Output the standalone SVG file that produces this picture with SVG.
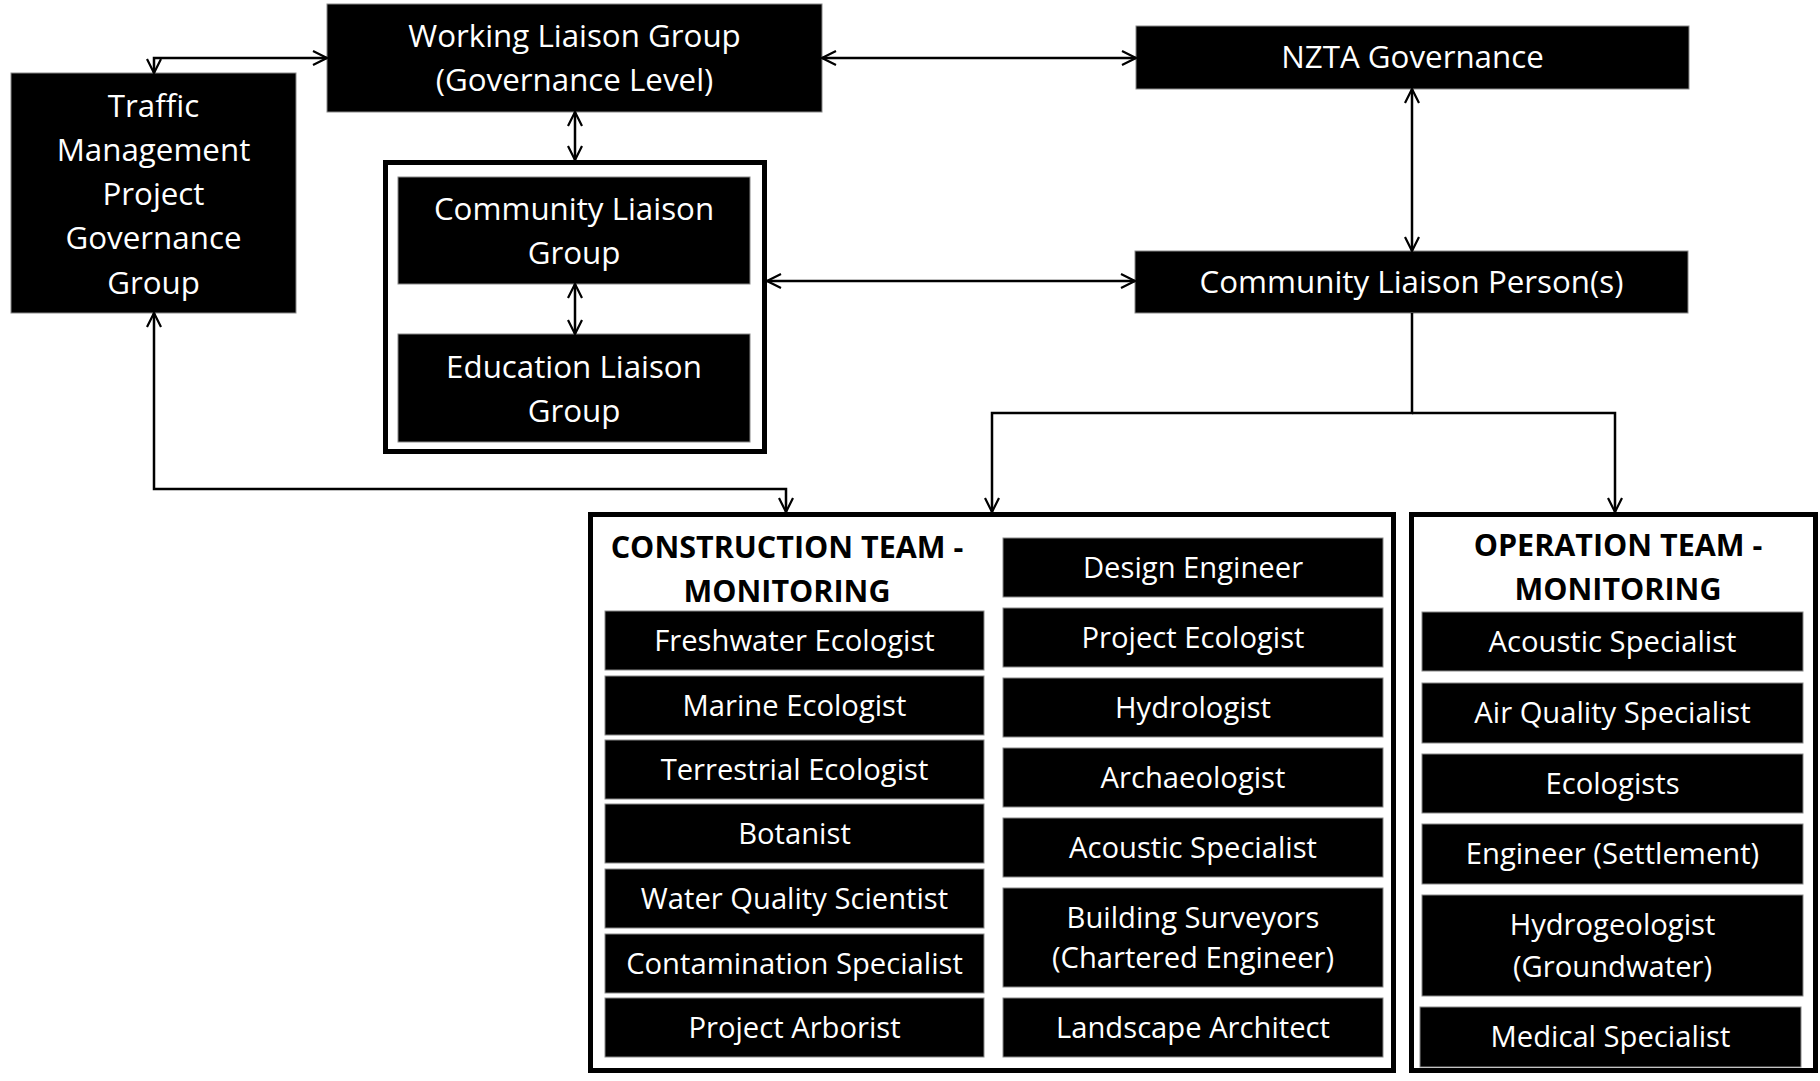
<svg xmlns="http://www.w3.org/2000/svg" width="1820" height="1081" viewBox="0 0 1820 1081">
<style>
.box{fill:#000;stroke:#888;stroke-width:1}
.cont{fill:#fff;stroke:#000;stroke-width:5}
.t{font-family:"Open Sans","Noto Sans",sans-serif;fill:#fff;text-anchor:middle;font-size:31.3px}
.s{font-family:"Open Sans","Noto Sans",sans-serif;fill:#fff;text-anchor:middle;font-size:29.2px}
.h{font-family:"Open Sans","Noto Sans",sans-serif;fill:#000;text-anchor:middle;font-size:30.5px;font-weight:bold}
.c{fill:none;stroke:#000;stroke-width:2.5}
</style>
<defs>
<marker id="arr" markerUnits="userSpaceOnUse" markerWidth="18" markerHeight="18" viewBox="0 0 18 18" refX="16" refY="9" orient="auto-start-reverse">
<path d="M2,2 L16,9 L2,16" fill="none" stroke="#000" stroke-width="2.2"/>
</marker>
</defs>
<rect width="1820" height="1081" fill="#fff"/>

<g id="traffic">
<rect class="box" x="11" y="73" width="285" height="240"/>
<text class="t" x="153.5" y="117">Traffic</text>
<text class="t" x="153.5" y="161">Management</text>
<text class="t" x="153.5" y="205">Project</text>
<text class="t" x="153.5" y="249">Governance</text>
<text class="t" x="153.5" y="294">Group</text>
</g>

<g id="working-liaison">
<rect class="box" x="327" y="4" width="495" height="108"/>
<text class="t" x="574.5" y="47">Working Liaison Group</text>
<text class="t" x="574.5" y="91">(Governance Level)</text>
</g>

<g id="liaison-container">
<rect class="cont" x="385.5" y="162.5" width="379" height="289"/>
</g>
<g id="community-liaison-group">
<rect class="box" x="398" y="177" width="352" height="107"/>
<text class="t" x="574" y="220">Community Liaison</text>
<text class="t" x="574" y="264">Group</text>
</g>
<g id="education-liaison-group">
<rect class="box" x="398" y="334" width="352" height="108"/>
<text class="t" x="574" y="378">Education Liaison</text>
<text class="t" x="574" y="422">Group</text>
</g>

<g id="nzta">
<rect class="box" x="1136" y="26" width="553" height="63"/>
<text class="t" x="1412.5" y="68">NZTA Governance</text>
</g>

<g id="clp">
<rect class="box" x="1135" y="251" width="553" height="62"/>
<text class="t" x="1411.5" y="293">Community Liaison Person(s)</text>
</g>

<g id="construction-team">
<rect class="cont" x="590.5" y="514.5" width="803" height="556"/>
<text class="h" x="787" y="558">CONSTRUCTION TEAM -</text>
<text class="h" x="787" y="602">MONITORING</text>
</g>
<g id="c-freshwater"><rect class="box" x="605" y="611" width="379" height="59"/><text class="s" x="794.5" y="651">Freshwater Ecologist</text></g>
<g id="c-marine"><rect class="box" x="605" y="676" width="379" height="59"/><text class="s" x="794.5" y="716">Marine Ecologist</text></g>
<g id="c-terrestrial"><rect class="box" x="605" y="740" width="379" height="59"/><text class="s" x="794.5" y="780">Terrestrial Ecologist</text></g>
<g id="c-botanist"><rect class="box" x="605" y="804" width="379" height="59"/><text class="s" x="794.5" y="844">Botanist</text></g>
<g id="c-water"><rect class="box" x="605" y="869" width="379" height="59"/><text class="s" x="794.5" y="909">Water Quality Scientist</text></g>
<g id="c-contamination"><rect class="box" x="605" y="934" width="379" height="59"/><text class="s" x="794.5" y="974">Contamination Specialist</text></g>
<g id="c-arborist"><rect class="box" x="605" y="998" width="379" height="59"/><text class="s" x="794.5" y="1038">Project Arborist</text></g>

<g id="c-design"><rect class="box" x="1003" y="538" width="380" height="59"/><text class="s" x="1193" y="578">Design Engineer</text></g>
<g id="c-project-ecologist"><rect class="box" x="1003" y="608" width="380" height="59"/><text class="s" x="1193" y="648">Project Ecologist</text></g>
<g id="c-hydrologist"><rect class="box" x="1003" y="678" width="380" height="59"/><text class="s" x="1193" y="718">Hydrologist</text></g>
<g id="c-archaeologist"><rect class="box" x="1003" y="748" width="380" height="59"/><text class="s" x="1193" y="788">Archaeologist</text></g>
<g id="c-acoustic"><rect class="box" x="1003" y="818" width="380" height="59"/><text class="s" x="1193" y="858">Acoustic Specialist</text></g>
<g id="c-building"><rect class="box" x="1003" y="888" width="380" height="99"/><text class="s" x="1193" y="928">Building Surveyors</text><text class="s" x="1193" y="968">(Chartered Engineer)</text></g>
<g id="c-landscape"><rect class="box" x="1003" y="998" width="380" height="59"/><text class="s" x="1193" y="1038">Landscape Architect</text></g>

<g id="operation-team">
<rect class="cont" x="1411.5" y="514.5" width="404" height="556"/>
<text class="h" x="1618" y="556">OPERATION TEAM -</text>
<text class="h" x="1618" y="600">MONITORING</text>
</g>
<g id="o-acoustic"><rect class="box" x="1422" y="612" width="381" height="59"/><text class="s" x="1612.5" y="652">Acoustic Specialist</text></g>
<g id="o-air"><rect class="box" x="1422" y="683" width="381" height="60"/><text class="s" x="1612.5" y="723">Air Quality Specialist</text></g>
<g id="o-ecologists"><rect class="box" x="1422" y="754" width="381" height="59"/><text class="s" x="1612.5" y="794">Ecologists</text></g>
<g id="o-engineer"><rect class="box" x="1422" y="824" width="381" height="60"/><text class="s" x="1612.5" y="864">Engineer (Settlement)</text></g>
<g id="o-hydrogeologist"><rect class="box" x="1422" y="895" width="381" height="101"/><text class="s" x="1612.5" y="935">Hydrogeologist</text><text class="s" x="1612.5" y="977">(Groundwater)</text></g>
<g id="o-medical"><rect class="box" x="1420" y="1007" width="381" height="60"/><text class="s" x="1610.5" y="1047">Medical Specialist</text></g>

<g id="connectors">
<path class="c" d="M154,73 V58 H327" marker-start="url(#arr)" marker-end="url(#arr)"/>
<path class="c" d="M822,58 H1136" marker-start="url(#arr)" marker-end="url(#arr)"/>
<path class="c" d="M575,112 V160" marker-start="url(#arr)" marker-end="url(#arr)"/>
<path class="c" d="M575,284 V334" marker-start="url(#arr)" marker-end="url(#arr)"/>
<path class="c" d="M767,281 H1135" marker-start="url(#arr)" marker-end="url(#arr)"/>
<path class="c" d="M1412,89 V251" marker-start="url(#arr)" marker-end="url(#arr)"/>
<path class="c" d="M154,313 V489 H786 V512" marker-start="url(#arr)" marker-end="url(#arr)"/>
<path class="c" d="M1412,313 V413 H992 V512" marker-end="url(#arr)"/>
<path class="c" d="M1412,413 H1615 V512" marker-end="url(#arr)"/>
</g>
</svg>
